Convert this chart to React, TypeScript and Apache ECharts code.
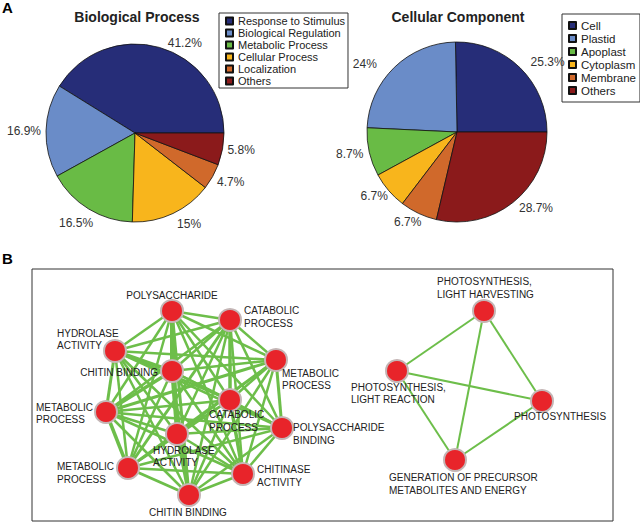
import React, { useEffect, useRef } from 'react';
import * as echarts from 'echarts';

// ---------- Panel A data ----------
const bpNames = ['Response to Stimulus', 'Biological Regulation', 'Metabolic Process', 'Cellular Process', 'Localization', 'Others'];
const bpValues = [41.2, 16.9, 16.5, 15, 4.7, 5.8];
const ccNames = ['Cell', 'Plastid', 'Apoplast', 'Cytoplasm', 'Membrane', 'Others'];
const ccValues = [25.3, 24, 8.7, 6.7, 6.7, 28.7];
const sliceColors = ['#262D78', '#6A8CC8', '#69BB45', '#F8B51C', '#D0692B', '#8B1A1B'];

// label nudges (style only)
const bpLabelNudge: [number, number][] = [[0, 0], [7, 0], [14, 10], [-5, 6], [-7, 3], [-7, 0]];
const ccLabelNudge: [number, number][] = [[0, -2], [-7, 0], [6, 1], [10, 2], [12, 4], [-4, 2]];

// ---------- Panel B data (network) ----------
const nodeNames = [
  'POLYSACCHARIDE',
  'CATABOLIC\nPROCESS',
  'HYDROLASE\nACTIVITY',
  'CHITIN BINDING',
  'METABOLIC\nPROCESS',
  'CATABOLIC\nPROCESS',
  'METABOLIC\nPROCESS',
  'POLYSACCHARIDE\nBINDING',
  'HYDROLASE\nACTIVITY',
  'METABOLIC\nPROCESS',
  'CHITINASE\nACTIVITY',
  'CHITIN BINDING',
  'PHOTOSYNTHESIS,\nLIGHT HARVESTING',
  'PHOTOSYNTHESIS,\nLIGHT REACTION',
  'PHOTOSYNTHESIS',
  'GENERATION OF PRECURSOR\nMETABOLITES AND ENERGY',
];
// node layout coordinates (network layout units)
const nodeX = [140, 198, 83, 140, 244, 198, 74, 250, 145, 96, 211, 157, 452, 365, 510, 423];
const nodeY = [42, 51, 82, 102, 91, 131, 143, 159, 165, 199, 205, 226, 42, 102, 132, 191];
// edges: [source, target, weight]
const edges: [number, number, number][] = [
  [0, 1, 2.5], [0, 2, 2.5], [0, 3, 4], [0, 4, 2.5], [0, 5, 2.5], [0, 6, 2.5], [0, 7, 2.5], [0, 8, 3.5], [0, 9, 2.5], [0, 10, 2.5], [0, 11, 3],
  [1, 2, 2.5], [1, 3, 2.5], [1, 4, 2.5], [1, 5, 3.5], [1, 6, 2.5], [1, 7, 2.5], [1, 8, 2.5], [1, 9, 3], [1, 10, 2.5], [1, 11, 2.5],
  [2, 3, 3.5], [2, 4, 2.5], [2, 5, 2.5], [2, 6, 3], [2, 7, 2.5], [2, 8, 2.5], [2, 9, 2.5], [2, 10, 2.5], [2, 11, 2.5],
  [3, 4, 2.5], [3, 5, 2.5], [3, 6, 3.5], [3, 7, 2.5], [3, 8, 3.5], [3, 9, 2.5], [3, 10, 2.5], [3, 11, 3],
  [4, 5, 2.5], [4, 6, 3], [4, 7, 3], [4, 8, 2.5], [4, 9, 2.5], [4, 10, 2.5], [4, 11, 2.5],
  [5, 6, 2.5], [5, 7, 2.5], [5, 8, 2.5], [5, 9, 2.5], [5, 10, 3.5], [5, 11, 2.5],
  [6, 7, 2.5], [6, 8, 2.5], [6, 9, 3.5], [6, 10, 2.5], [6, 11, 2.5],
  [7, 8, 2.5], [7, 9, 2.5], [7, 10, 2.5], [7, 11, 2.5],
  [8, 9, 2.5], [8, 10, 2.5], [8, 11, 3.5],
  [9, 10, 2.5], [9, 11, 3],
  [10, 11, 2.5],
  [12, 13, 2], [12, 14, 2], [12, 15, 2], [13, 14, 2], [13, 15, 2], [14, 15, 2],
];

// label placement (style): offset from node centre and alignment
const labelOffsets: [number, number][] = [
  [0, -16], [14, -3], [-58, -11.5], [-14, 1], [6, 19.5], [-21, 21], [-70, 1.5], [11, 6],
  [-24, 22.5], [-71, 5], [14, 2], [-1, 17], [-47, -23], [-46, 22.5], [-28, 15], [-66, 24],
];
const labelAligns = [
  'center', 'left', 'left', 'right', 'left', 'left', 'left', 'left',
  'left', 'left', 'left', 'center', 'left', 'left', 'left', 'left',
];

const FONT = '"Liberation Sans", Arial, Helvetica, sans-serif';

function pieSeries(names: string[], values: number[], center: [number, number], radius: number, nudge: [number, number][]) {
  return {
    type: 'pie',
    center,
    radius,
    startAngle: 0,
    clockwise: false,
    avoidLabelOverlap: false,
    silent: true,
    data: names.map((n, i) => ({ name: n, value: values[i], itemStyle: { color: sliceColors[i] } })),
    itemStyle: { borderColor: '#111', borderWidth: 0.8 },
    label: {
      show: true,
      position: 'outside',
      formatter: '{c}%',
      fontFamily: FONT,
      fontSize: 12,
      color: '#333',
    },
    labelLine: { show: false, length: 5, length2: 2 },
    labelLayout: (p: any) => ({ dx: nudge[p.dataIndex][0], dy: nudge[p.dataIndex][1] }),
  };
}

function legendCfg(names: string[], left: number, top: number, fontSize: number, lineHeight: number, padding: number[]) {
  return {
    orient: 'vertical',
    left,
    top,
    data: names,
    icon: 'rect',
    itemWidth: 7,
    itemHeight: 7,
    itemGap: 0,
    padding,
    borderColor: '#333',
    borderWidth: 1,
    selectedMode: false,
    textStyle: { fontFamily: FONT, fontSize, lineHeight, color: '#222' },
  };
}

export default function App() {
  const ref = useRef<HTMLDivElement>(null);
  useEffect(() => {
    const chart = echarts.init(ref.current!, null, { renderer: 'svg' });
    const titleStyle = { fontFamily: FONT, fontWeight: 'bold', fontSize: 14, color: '#222' };
    const option = {
      animation: false,
      backgroundColor: '#fff',
      title: [
        { text: 'A', left: 2, top: 0, padding: 0, textStyle: { ...titleStyle, fontSize: 15, color: '#000' } },
        { text: 'Biological Process', left: 137, top: 10, padding: 0, textAlign: 'center', textStyle: titleStyle },
        { text: 'Cellular Component', left: 458, top: 10, padding: 0, textAlign: 'center', textStyle: titleStyle },
        { text: 'B', left: 2, top: 251, padding: 0, textStyle: { ...titleStyle, fontSize: 15, color: '#000' } },
      ],
      legend: [
        legendCfg(bpNames, 219, 13, 11, 12, [2, 3, 1, 6]),
        legendCfg(ccNames, 562, 14, 11.5, 13, [5, 4, 5, 6]),
      ],
      grid: {
        left: 32, top: 269, width: 581, height: 252,
        show: true, borderColor: '#333', borderWidth: 1, backgroundColor: 'transparent',
      },
      xAxis: { type: 'value', min: 0, max: 581, show: false },
      yAxis: { type: 'value', min: 0, max: 252, inverse: true, show: false },
      series: [
        pieSeries(bpNames, bpValues, [135, 133], 89, bpLabelNudge),
        pieSeries(ccNames, ccValues, [457, 132], 90, ccLabelNudge),
        {
          type: 'graph',
          coordinateSystem: 'cartesian2d',
          xAxisIndex: 0,
          yAxisIndex: 0,
          layout: 'none',
          silent: true,
          symbol: 'circle',
          symbolSize: 22,
          itemStyle: { color: '#E8242A', borderColor: '#C4B5B5', borderWidth: 2 },
          lineStyle: { color: '#6DBE4A', opacity: 1, curveness: 0 },
          edgeSymbol: ['none', 'none'],
          data: nodeNames.map((n, i) => ({
            id: 'node' + i,
            name: n,
            value: [nodeX[i], nodeY[i]],
            label: {
              show: true,
              position: 'inside',
              offset: labelOffsets[i],
              align: labelAligns[i],
              verticalAlign: 'middle',
              fontFamily: FONT,
              fontSize: 10,
              lineHeight: 12.5,
              color: '#222',
              textBorderWidth: 0,
            },
          })),
          links: edges.map(([s, t, w]) => ({ source: 'node' + s, target: 'node' + t, lineStyle: { width: w } })),
        },
      ],
    };
    chart.setOption(option as any);
    return () => chart.dispose();
  }, []);
  return <div ref={ref} style={{ width: 640, height: 523, position: 'absolute', left: 0, top: 0 }} />;
}
